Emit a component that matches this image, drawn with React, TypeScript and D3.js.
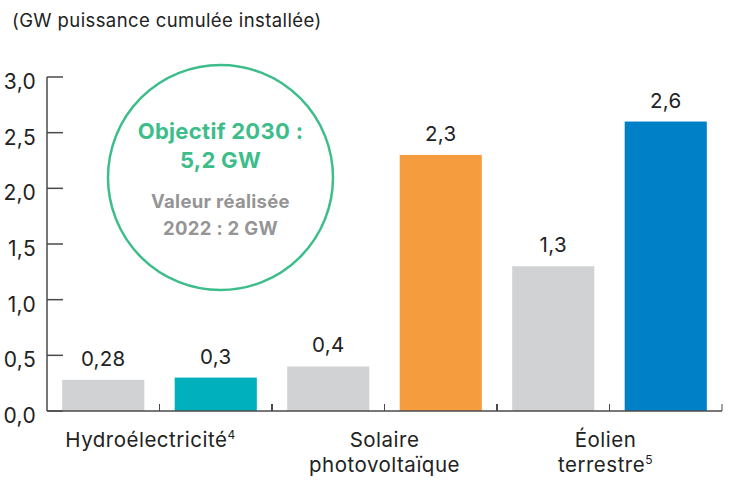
import React from "react";
import * as d3 from "d3";

const groups = ["Hydroélectricité", "Solaire photovoltaïque", "Éolien terrestre"];
const groupLabels = [["Hydroélectricité", "4"], ["Solaire", "photovoltaïque"], ["Éolien", "terrestre", "5"]];
const series = ["realise", "objectif"];
const realiseValues = [0.28, 0.4, 1.3];
const objectifValues = [0.3, 2.3, 2.6];
const valueLabels = [["0,28", "0,3"], ["0,4", "2,3"], ["1,3", "2,6"]];
const objectifColors = ["#00b0bd", "#f59d3e", "#0080c6"];
const yTicks = [0, 0.5, 1, 1.5, 2, 2.5, 3];
const yTickLabels = ["0,0", "0,5", "1,0", "1,5", "2,0", "2,5", "3,0"];

const W = 733, H = 480;
const FONT = "Inter, 'Liberation Sans', Arial, sans-serif";

export default function App() {
  const x0 = d3.scaleBand<string>().domain(groups).range([47, 722]).padding(0);
  const x1 = d3.scaleBand<string>().domain(series).range([0, x0.bandwidth()]).paddingInner(0.27).paddingOuter(0.135);
  const y = d3.scaleLinear().domain([0, 3]).range([411, 77]);
  const axisColor = "#4a4a4a";
  const grey = "#d1d2d4";
  const textColor = "#222";
  const labelOffsets = [-9, 0, -4];

  return (
    <svg width={W} height={H} style={{ position: "absolute", left: 0, top: 0, fontFamily: FONT }}>
      <text x={12} y={27} fontSize={18.5} letterSpacing={0.4} fill={textColor}>(GW puissance cumulée installée)</text>
      {/* y axis */}
      <line x1={47} x2={47} y1={y(3)} y2={y(0)} stroke={axisColor} strokeWidth={1.5} />
      {yTicks.map((t, i) => (
        <g key={t}>
          <line x1={47} x2={63} y1={y(t)} y2={y(t)} stroke={axisColor} strokeWidth={1.5} />
          <text x={36} y={y(t) + 12} textAnchor="end" fontSize={21} letterSpacing={0.3} fill={textColor}>{yTickLabels[i]}</text>
        </g>
      ))}
      {/* bars */}
      {groups.map((g, gi) => {
        const vals = [realiseValues[gi], objectifValues[gi]];
        return (
          <g key={g} transform={`translate(${x0(g)},0)`}>
            {series.map((s, si) => (
              <g key={s}>
                <rect x={x1(s)} y={y(vals[si])} width={x1.bandwidth()} height={y(0) - y(vals[si])}
                  fill={si === 0 ? grey : objectifColors[gi]} />
                <text x={(x1(s) as number) + x1.bandwidth() / 2} y={y(vals[si]) - 14} textAnchor="middle" fontSize={20.5} letterSpacing={0.3} fill={textColor}>
                  {valueLabels[gi][si]}
                </text>
              </g>
            ))}
          </g>
        );
      })}
      {/* x baseline */}
      <line x1={47} x2={722} y1={y(0)} y2={y(0)} stroke={axisColor} strokeWidth={1.5} />
      {groups.map((g, gi) => (
        <g key={"t" + g}>
          <line x1={(x0(g) as number) + x0.bandwidth() / 2} x2={(x0(g) as number) + x0.bandwidth() / 2} y1={y(0)} y2={y(0) - 7} stroke={axisColor} strokeWidth={1} />
          <line x1={(x0(g) as number) + x0.bandwidth()} x2={(x0(g) as number) + x0.bandwidth()} y1={y(0)} y2={y(0) - 7} stroke={axisColor} strokeWidth={gi < 2 ? 2 : 1} />
        </g>
      ))}
      {/* category labels */}
      {groups.map((g, gi) => {
        const cx = (x0(g) as number) + x0.bandwidth() / 2 + labelOffsets[gi];
        const lab = groupLabels[gi];
        const props = { textAnchor: "middle" as const, fontSize: 20.5, letterSpacing: 0.5, fill: textColor };
        if (gi === 0) {
          return (
            <text key={"l" + g} x={cx} y={447} {...props}>
              {lab[0]}<tspan fontSize={12} dy={-8}>{lab[1]}</tspan>
            </text>
          );
        }
        if (gi === 1) {
          return (
            <g key={"l" + g}>
              <text x={cx} y={447} {...props}>{lab[0]}</text>
              <text x={cx} y={472} {...props}>{lab[1]}</text>
            </g>
          );
        }
        return (
          <g key={"l" + g}>
            <text x={cx} y={447} {...props}>{lab[0]}</text>
            <text x={cx} y={472} {...props}>
              {lab[1]}<tspan fontSize={12} dy={-8}>{lab[2]}</tspan>
            </text>
          </g>
        );
      })}
      {/* objective circle */}
      <circle cx={220.5} cy={177.5} r={112.5} fill="none" stroke="#3dbd8a" strokeWidth={2.5} />
      <text x={220.5} y={139} textAnchor="middle" fontSize={22} fontWeight={700} letterSpacing={0.3} fill="#3dbd8a">Objectif 2030 :</text>
      <text x={220.5} y={168} textAnchor="middle" fontSize={22} fontWeight={700} letterSpacing={0.3} fill="#3dbd8a">5,2 GW</text>
      <text x={220.5} y={208} textAnchor="middle" fontSize={18.5} fontWeight={700} letterSpacing={0.3} fill="#959595">Valeur réalisée</text>
      <text x={220.5} y={235} textAnchor="middle" fontSize={18.5} fontWeight={700} letterSpacing={0.3} fill="#959595">2022 : 2 GW</text>
    </svg>
  );
}
